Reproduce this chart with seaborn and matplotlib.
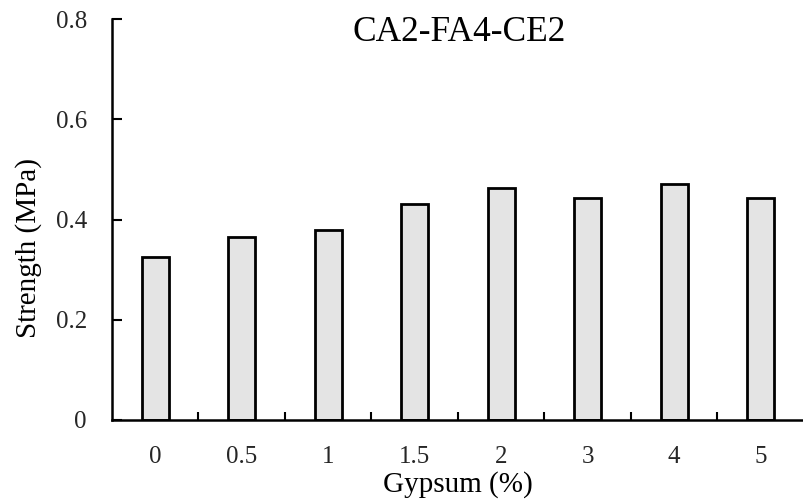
import matplotlib
matplotlib.use("Agg")
import matplotlib.pyplot as plt
import seaborn as sns
import pandas as pd

# Gypsum content and measured strength
gypsum = ["0", "0.5", "1", "1.5", "2", "3", "4", "5"]
strength = [0.326, 0.366, 0.379, 0.431, 0.463, 0.443, 0.470, 0.443]
y_ticks = [0, 0.2, 0.4, 0.6, 0.8]
y_tick_labels = ["0", "0.2", "0.4", "0.6", "0.8"]

sns.set_theme(style="white")
plt.rcParams["font.family"] = ["Liberation Serif", "DejaVu Serif"]

df = pd.DataFrame({"Gypsum": gypsum, "Strength": strength})

fig = plt.figure(figsize=(8.04, 5.04), dpi=100)
ax = fig.add_axes([112 / 804, 84 / 504, 1 - 112 / 804, (420 - 19) / 504])

sns.barplot(data=df, x="Gypsum", y="Strength", order=gypsum, ax=ax,
            color="#e4e4e4", edgecolor="black", linewidth=2.0, width=0.31,
            saturation=1)

ax.set_xlim(-0.5, len(gypsum) - 0.5)
ax.set_ylim(0, 0.8)
ax.set_yticks(y_ticks)
ax.set_yticklabels(y_tick_labels)

# category separators as inward ticks on the x axis
ax.set_xticks([i + 0.5 for i in range(len(gypsum) - 1)], minor=True)
ax.tick_params(axis="x", which="major", length=0, pad=19, labelsize=18)
ax.tick_params(axis="x", which="minor", direction="in", length=6, width=1.5,
               color="black", bottom=True)
ax.tick_params(axis="y", direction="in", length=7, width=1.5, color="black",
               left=True, pad=18, labelsize=18)

for side in ["top", "right"]:
    ax.spines[side].set_visible(False)
for side in ["left", "bottom"]:
    ax.spines[side].set_color("black")
    ax.spines[side].set_linewidth(1.8)

ax.set_xlabel("Gypsum (%)", fontsize=21, labelpad=2, color="black")
ax.set_ylabel("Strength (MPa)", fontsize=21, color="black")
ax.yaxis.set_label_coords(-0.101, 0.43)
ax.text(0.501, 0.946, "CA2-FA4-CE2", transform=ax.transAxes, ha="center",
        va="baseline", fontsize=25.5, color="black")

fig.savefig("out.png", dpi=100)
